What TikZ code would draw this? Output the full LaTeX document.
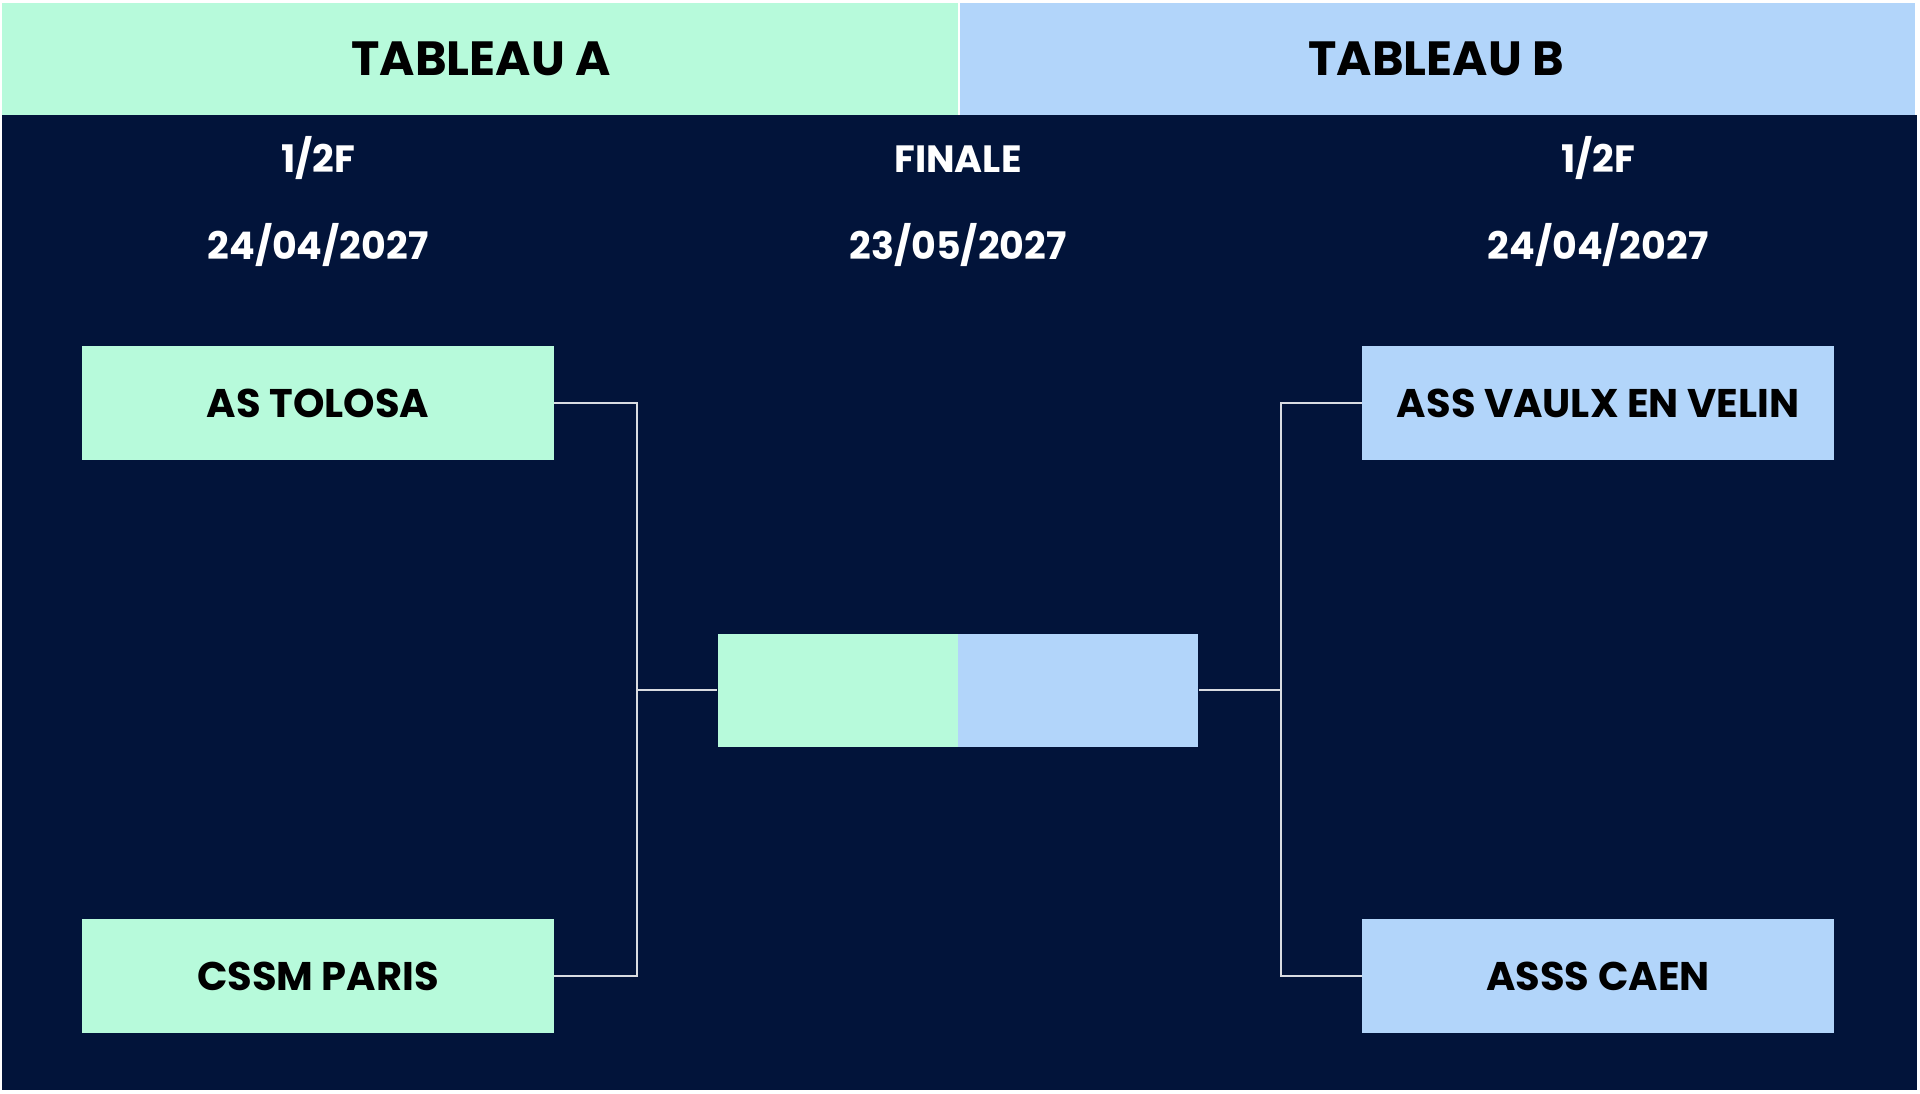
\documentclass[tikz,border=0pt]{standalone}
\usepackage{fontspec}
\setmainfont{Poppins}
\definecolor{mint}{HTML}{B7FADB}
\definecolor{sky}{HTML}{B2D5FA}
\definecolor{navy}{HTML}{02143A}
\begin{document}
\begin{tikzpicture}[x={(0.5pt,0pt)},y={(0pt,-0.5pt)},
	head/.style={text=black,font=\bfseries\fontsize{24}{24}\selectfont,anchor=base},
	round/.style={text=white,font=\bfseries\fontsize{19}{19}\selectfont,anchor=base},
	team/.style={minimum width=236pt,minimum height=57pt,inner sep=0pt,text=black,font=\bfseries\fontsize{20}{20}\selectfont,text depth=0pt},
	half/.style={minimum width=120pt,minimum height=56.5pt,inner sep=0pt},
	link/.style={draw=white!85!navy,line width=0.75pt}]
	\useasboundingbox (0,0) rectangle (1920,1093);
	\fill[white] (0,0) rectangle (1920,1093);
	\fill[mint] (2,3) rectangle (958,115);
	\fill[sky] (960,3) rectangle (1915,115);
	\fill[navy] (2,115) rectangle (1917,1090);
	\node[head] (ha) at (481,75) {TABLEAU A};
	\node[head] (hb) at (1436,75) {TABLEAU B};
	\node[round] (ra) at (318,172) {1/2F};
	\node[round] (rf) at (958,172) {FINALE};
	\node[round] (rb) at (1598,172) {1/2F};
	\node[round] (da) at (318,259) {24/04/2027};
	\node[round] (df) at (958,259) {23/05/2027};
	\node[round] (db) at (1598,259) {24/04/2027};
	\node[team,fill=mint] (a1) at (318,403) {AS TOLOSA};
	\node[team,fill=mint] (a2) at (318,976) {CSSM PARIS};
	\node[team,fill=sky] (b1) at (1598,403) {ASS VAULX EN VELIN};
	\node[team,fill=sky] (b2) at (1598,976) {ASSS CAEN};
	\node[half,fill=mint,anchor=east] (fa) at (958,690) {};
	\node[half,fill=sky,anchor=west] (fb) at (958,690) {};
	\coordinate (ja) at (637,690);
	\coordinate (jb) at (1281,690);
	\draw[link] (a1.east) -| (ja) |- (a2.east);
	\draw[link] (ja) -- (fa.west);
	\draw[link] (b1.west) -| (jb) |- (b2.west);
	\draw[link] (jb) -- (fb.east);
\end{tikzpicture}
\end{document}
